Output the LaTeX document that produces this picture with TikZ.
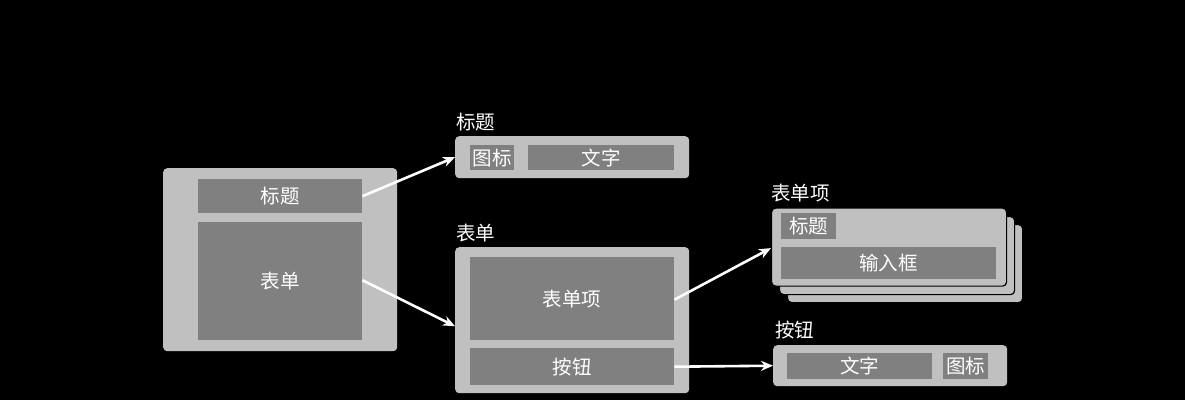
\documentclass[tikz,border=0pt]{standalone}
\usepackage{fontspec}
\setmainfont{Noto Sans CJK SC}
\usetikzlibrary{arrows.meta}
\definecolor{lightg}{HTML}{C0C0C0}
\definecolor{darkg}{HTML}{808080}
\tikzset{
  outer/.style={fill=lightg, rounded corners=4pt, draw=none},
  card/.style={fill=lightg, rounded corners=4pt, draw=black, line width=1.2pt},
  inner/.style={fill=darkg, draw=none, text=white, font=\fontsize{19.5}{21}\selectfont, inner sep=0pt},
  lbl/.style={text=white, font=\fontsize{19.5}{21}\selectfont, anchor=west, inner sep=0pt},
  conn/.style={draw=white, line width=2.6pt, -{Stealth[length=12pt,width=10pt]}}
}
\begin{document}
\begin{tikzpicture}[x=1pt,y=-1pt]
\fill[black] (0,0) rectangle (1185,400);
\useasboundingbox (0,0) rectangle (1185,400);
% left main
\node[outer, minimum width=234pt, minimum height=183pt, anchor=north west] (main) at (163,168) {};
\node[inner, minimum width=164pt, minimum height=34pt, anchor=north west] (mtitle) at (198,179) {标题};
\node[inner, minimum width=164pt, minimum height=118pt, anchor=north west] (mform) at (198,222) {表单};
% title box
\node[lbl] (ltitle) at (456,122) {标题};
\node[outer, minimum width=234pt, minimum height=42pt, anchor=north west] (tbox) at (455,136) {};
\node[inner, minimum width=44pt, minimum height=25pt, anchor=north west] (ticon) at (470,145) {图标};
\node[inner, minimum width=146pt, minimum height=25pt, anchor=north west] (ttext) at (528,145) {文字};
% form box
\node[lbl] (lform) at (456,233) {表单};
\node[outer, minimum width=234pt, minimum height=146pt, anchor=north west] (fbox) at (455,247) {};
\node[inner, minimum width=204pt, minimum height=83pt, anchor=north west] (fitem) at (470,257) {表单项};
\node[inner, minimum width=204pt, minimum height=37pt, anchor=north west] (fbtn) at (470,348) {按钮};
% form item stack
\node[lbl] (litem) at (771,193) {表单项};
\node[card, minimum width=235pt, minimum height=78pt, anchor=north west] (card3) at (787,224) {};
\node[card, minimum width=235pt, minimum height=78pt, anchor=north west] (card2) at (779,216) {};
\node[card, minimum width=235pt, minimum height=78pt, anchor=north west] (card1) at (771,207.5) {};
\node[inner, minimum width=55pt, minimum height=26pt, anchor=north west] (ititle) at (781,213) {标题};
\node[inner, minimum width=215pt, minimum height=32pt, anchor=north west] (iinput) at (781,247) {输入框};
% button box
\node[lbl] (lbtn) at (775,330) {按钮};
\node[outer, minimum width=234pt, minimum height=41pt, anchor=north west] (bbox) at (773,345) {};
\node[inner, minimum width=145pt, minimum height=26pt, anchor=north west] (btext) at (787,353) {文字};
\node[inner, minimum width=45pt, minimum height=26pt, anchor=north west] (bicon) at (943,353) {图标};
% connectors
\draw[conn] (mtitle.east) -- (tbox.west);
\draw[conn] ([yshift=1pt]mform.east) -- ([yshift=-6pt]fbox.west);
\draw[conn] ([yshift=-1pt]fitem.east) -- ([yshift=-1pt]card1.west);
\draw[conn] (fbtn.east) -- (bbox.west);
\end{tikzpicture}
\end{document}
